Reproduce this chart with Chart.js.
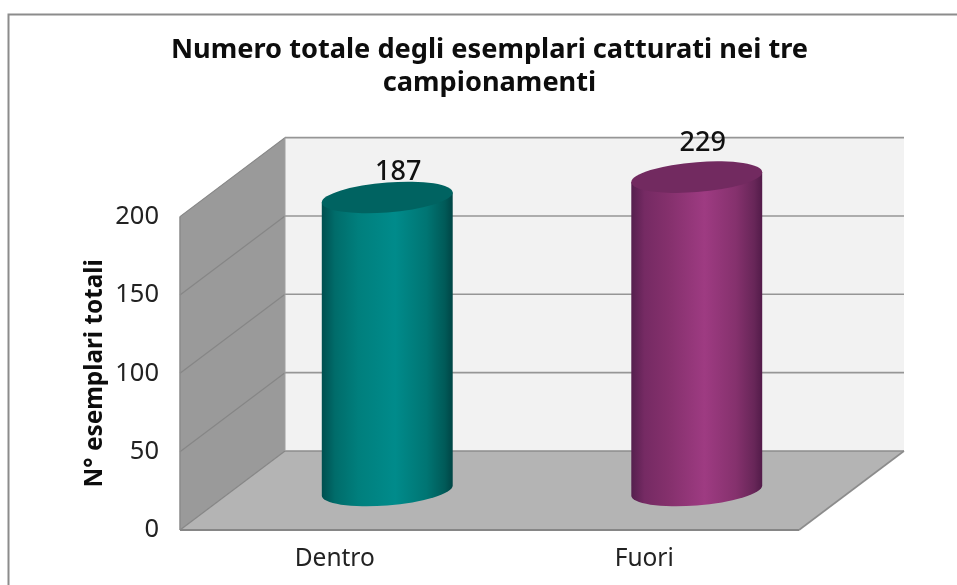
<!DOCTYPE html>
<html>
<head>
<meta charset="utf-8">
<style>html,body{margin:0;padding:0;background:#fff}canvas{display:block}#w{width:957px;height:585px}</style>
<script src="https://cdn.jsdelivr.net/npm/chart.js@4"></script>
</head>
<body>
<div id="w"><canvas id="c" width="957" height="585"></canvas></div>
<script>
const categories = ['Dentro', 'Fuori'];
const seriesLabel = 'N° esemplari totali';
const seriesValues = [187, 229];
const titleLines = ['Numero totale degli esemplari catturati nei tre', 'campionamenti'];
const axisMax = 200;
const axisStep = 50;

const FONT = '"Noto Sans", sans-serif';
const DEPTH_X = 105, DEPTH_Y = -79;
const palette = [
  {stops:[[0,'#004f4f'],[0.1,'#006c6a'],[0.28,'#007f7d'],[0.56,'#008b8b'],[0.8,'#007573'],[0.94,'#005a58'],[1,'#004545']], top:'#006361'},
  {stops:[[0,'#551f4e'],[0.1,'#752a63'],[0.28,'#84306c'],[0.56,'#9e3b82'],[0.8,'#85316d'],[0.94,'#672658'],[1,'#521b49']], top:'#722a60'}
];
const labelNudge = [[11, -25.5], [6, -34]];

const scene3d = {
  id: 'scene3d',
  afterLayout(chart) {
    const t = chart.titleBlock;
    if (t) { t.left -= 40; t.right += 40; }
  },
  beforeDraw(chart) {
    const c = chart.ctx;
    c.save();
    c.fillStyle = '#fff';
    c.fillRect(0, 0, chart.width, chart.height);
    c.strokeStyle = '#8c8c8c'; c.lineWidth = 2;
    c.beginPath(); c.moveTo(8.5, chart.height); c.lineTo(8.5, 14.5); c.lineTo(chart.width, 14.5); c.stroke();
    c.restore();
  },
  beforeDatasetsDraw(chart) {
    const c = chart.ctx, a = chart.chartArea, y = chart.scales.y;
    const L = a.left, R = a.right, T = a.top, B = a.bottom;
    const poly = (pts, fill) => { c.beginPath(); pts.forEach((p, i) => i ? c.lineTo(p[0], p[1]) : c.moveTo(p[0], p[1])); c.closePath(); c.fillStyle = fill; c.fill(); };
    const line = (x1, y1, x2, y2, col, w) => { c.beginPath(); c.moveTo(x1, y1); c.lineTo(x2, y2); c.strokeStyle = col; c.lineWidth = w; c.stroke(); };
    c.save();
    poly([[L+DEPTH_X,T+DEPTH_Y],[R+DEPTH_X,T+DEPTH_Y],[R+DEPTH_X,B+DEPTH_Y],[L+DEPTH_X,B+DEPTH_Y]], '#f2f2f2');
    poly([[L,T],[L+DEPTH_X,T+DEPTH_Y],[L+DEPTH_X,B+DEPTH_Y],[L,B]], '#9a9a9a');
    poly([[L,B],[R,B],[R+DEPTH_X,B+DEPTH_Y],[L+DEPTH_X,B+DEPTH_Y]], '#b4b4b4');
    y.ticks.forEach(t => {
      const py = y.getPixelForValue(t.value);
      const isBase = t.value === 0;
      line(L, py, L+DEPTH_X, py+DEPTH_Y, '#868686', 1.2);
      line(L+DEPTH_X, py+DEPTH_Y, R+DEPTH_X, py+DEPTH_Y, isBase ? '#8c8c8c' : '#969696', 1.6);
    });
    line(L, T, L, B, '#8a8a8a', 1.5);
    line(L, B, R, B, '#868686', 2);
    line(R, B, R+DEPTH_X, B+DEPTH_Y, '#8c8c8c', 1.6);
    line(L+DEPTH_X, T+DEPTH_Y, L+DEPTH_X, B+DEPTH_Y, '#a0a0a0', 1);
    c.restore();
  },
  beforeDatasetDraw(chart, args) {
    const c = chart.ctx, a = chart.chartArea;
    args.meta.data.forEach((bar, i) => {
      const col = palette[i];
      const cx = bar.x + DEPTH_X / 2;
      const rx = bar.width / 2;
      const topY = Math.max(bar.y, a.top) + DEPTH_Y / 2;
      const baseY = bar.base + DEPTH_Y / 2;
      const ry = rx * 0.229, tilt = -rx * 0.0763;
      const g = c.createLinearGradient(cx - rx, 0, cx + rx, 0);
      col.stops.forEach(s => g.addColorStop(s[0], s[1]));
      c.save();
      c.beginPath();
      c.moveTo(cx - rx, topY - tilt);
      c.lineTo(cx + rx, topY + tilt);
      c.lineTo(cx + rx, baseY + tilt);
      c.save(); c.transform(1, tilt / rx, 0, 1, cx, baseY);
      c.ellipse(0, 0, rx, ry, 0, 0, Math.PI);
      c.restore();
      c.closePath();
      c.fillStyle = g; c.fill();
      c.save(); c.transform(1, tilt / rx, 0, 1, cx, topY); c.beginPath(); c.ellipse(0, 0, rx, ry, 0, 0, Math.PI * 2); c.fillStyle = col.top; c.fill(); c.restore();
      c.restore();
      c.save();
      c.font = '500 27px ' + FONT;
      c.fillStyle = '#111';
      c.textAlign = 'center'; c.textBaseline = 'middle';
      c.fillText(String(seriesValues[i]), cx + labelNudge[i][0], topY + labelNudge[i][1]);
      c.restore();
    });
    return false;
  }
};

new Chart(document.getElementById('c'), {
  type: 'bar',
  data: {
    labels: categories,
    datasets: [{ label: seriesLabel, data: seriesValues, backgroundColor: ['#008583', '#9b3a80'], categoryPercentage: 1, barPercentage: 0.423 }]
  },
  plugins: [scene3d],
  options: {
    responsive: false,
    animation: false,
    layout: { padding: { left: 80, right: 158, top: 0, bottom: 0 } },
    plugins: {
      legend: { display: false },
      tooltip: { enabled: false },
      title: {
        display: true,
        text: titleLines,
        fullSize: false,
        color: '#0d0d0d',
        font: { family: FONT, size: 27.2, weight: 'bold', lineHeight: 1.21 },
        padding: { top: 33.5, bottom: 117.3 }
      }
    },
    scales: {
      x: {
        grid: { display: false, drawTicks: false },
        border: { display: false },
        ticks: { color: '#222', font: { family: FONT, size: 24.5 }, padding: 14, maxRotation: 0 },
        afterFit(s) { s.height = 55; }
      },
      y: {
        min: 0, max: axisMax,
        grid: { display: false, drawTicks: false },
        border: { display: false },
        ticks: { stepSize: axisStep, color: '#222', font: { family: FONT, size: 25.5 }, padding: 21 },
        title: { display: true, text: seriesLabel, color: '#0d0d0d', font: { family: FONT, size: 24.3, weight: 'bold' }, padding: { top: 0, bottom: 0 } },
        afterFit(s) { s.width = 100; }
      }
    }
  }
});
</script>
</body>
</html>
